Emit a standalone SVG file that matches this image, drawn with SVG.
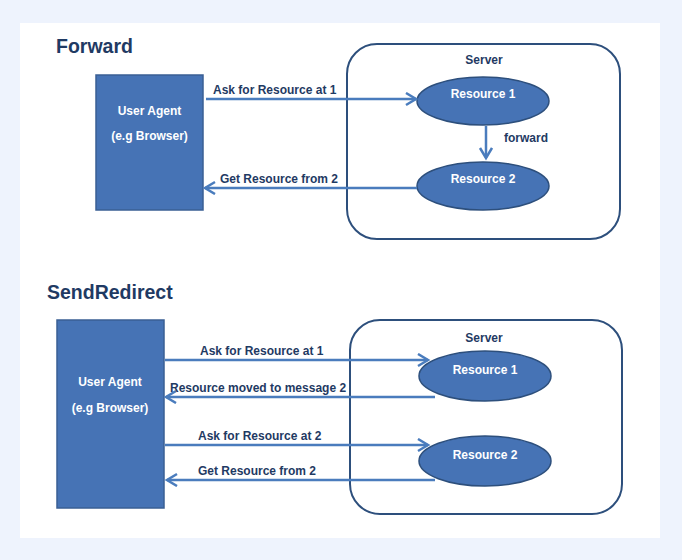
<svg xmlns="http://www.w3.org/2000/svg" width="682" height="560" viewBox="0 0 682 560">
<defs>
<style>
.t{font-family:"Liberation Sans",Arial,sans-serif;font-weight:bold}
.title{font-size:19.5px;fill:#1f3a63}
.lbl{font-size:12px;fill:#1f3a63}
.w{font-size:12px;fill:#ffffff}
.ua{fill:#4673b5;stroke:#3a5f94;stroke-width:1.5}
.srv{fill:none;stroke:#2d4f7c;stroke-width:2}
.res{fill:#4673b5;stroke:#2d4f7c;stroke-width:1.5}
.ar{fill:none;stroke:#4a7cbd;stroke-width:2.5;marker-end:url(#ah)}
</style>
<marker id="ah" markerUnits="userSpaceOnUse" markerWidth="14" markerHeight="16" refX="11" refY="7" orient="auto">
<path d="M1,1 L11,7 L1,13" fill="none" stroke="#4a7cbd" stroke-width="2.5"/>
</marker>
</defs>
<rect width="682" height="560" fill="#eef3fd"/>
<rect x="20" y="23" width="640" height="515" fill="#ffffff"/>
<text class="t title" x="56" y="53">Forward</text>
<text class="t title" x="47" y="299">SendRedirect</text>

<g id="ua1">
<rect class="ua" x="96" y="75" width="107" height="135"/>
<text class="t w" x="149.5" y="115" text-anchor="middle">User Agent</text>
<text class="t w" x="149.5" y="140" text-anchor="middle">(e.g Browser)</text>
</g>
<g id="server1">
<rect class="srv" x="347" y="44" width="273" height="195" rx="30"/>
<text class="t lbl" x="484" y="64" text-anchor="middle">Server</text>
</g>
<g id="res1a">
<ellipse class="res" cx="483" cy="101" rx="66" ry="24"/>
<text class="t w" x="483" y="98" text-anchor="middle">Resource 1</text>
</g>
<g id="res2a">
<ellipse class="res" cx="483" cy="186" rx="66" ry="24"/>
<text class="t w" x="483" y="183" text-anchor="middle">Resource 2</text>
</g>

<g id="ua2">
<rect class="ua" x="57" y="320" width="107" height="188"/>
<text class="t w" x="110" y="386" text-anchor="middle">User Agent</text>
<text class="t w" x="110" y="412" text-anchor="middle">(e.g Browser)</text>
</g>
<g id="server2">
<rect class="srv" x="350" y="320" width="272" height="194" rx="30"/>
<text class="t lbl" x="484" y="342" text-anchor="middle">Server</text>
</g>
<g id="res1b">
<ellipse class="res" cx="485" cy="376" rx="66" ry="25"/>
<text class="t w" x="485" y="374" text-anchor="middle">Resource 1</text>
</g>
<g id="res2b">
<ellipse class="res" cx="485" cy="461" rx="66" ry="25"/>
<text class="t w" x="485" y="459" text-anchor="middle">Resource 2</text>
</g>

<g id="connectors">
<line class="ar" x1="206" y1="99" x2="416" y2="99"/>
<text class="t lbl" x="213" y="94">Ask for Resource at 1</text>
<line class="ar" x1="486" y1="126" x2="486" y2="158"/>
<text class="t lbl" x="504" y="142">forward</text>
<line class="ar" x1="417" y1="188" x2="205" y2="188"/>
<text class="t lbl" x="220" y="183">Get Resource from 2</text>

<line class="ar" x1="165" y1="360" x2="428" y2="360"/>
<text class="t lbl" x="200" y="355">Ask for Resource at 1</text>
<line class="ar" x1="435" y1="397" x2="166" y2="397"/>
<text class="t lbl" x="170" y="392">Resource moved to message 2</text>
<line class="ar" x1="165" y1="445" x2="428" y2="445"/>
<text class="t lbl" x="198" y="440">Ask for Resource at 2</text>
<line class="ar" x1="435" y1="480" x2="167" y2="480"/>
<text class="t lbl" x="198" y="475">Get Resource from 2</text>
</g>
</svg>
